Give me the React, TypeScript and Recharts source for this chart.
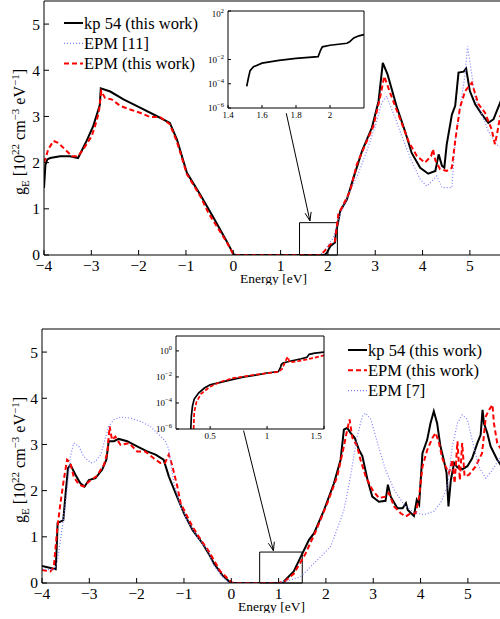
import React from "react";
import {
  LineChart,
  Line,
  XAxis,
  YAxis,
  ReferenceArea,
  ReferenceLine,
  Legend,
  CartesianGrid,
} from "recharts";

const SERIF = '"Liberation Serif", "Times New Roman", Times, serif';

type Pt = [number, number];

const energyTicks = [-4, -3, -2, -1, 0, 1, 2, 3, 4, 5];
const gTicks = [0, 1, 2, 3, 4, 5];

// upper panel: energy [eV] vs g_E [10^22 cm^-3 eV^-1]
const topKp: Pt[] = [
  [-4, 1.45], [-3.97, 1.95], [-3.93, 2.07], [-3.87, 2.1], [-3.66, 2.14], [-3.45, 2.14],
  [-3.28, 2.1], [-3.1, 2.47], [-2.96, 2.79], [-2.85, 3.15], [-2.82, 3.25], [-2.8, 3.61],
  [-2.6, 3.54], [-2.32, 3.37], [-1.97, 3.19], [-1.62, 3.01], [-1.34, 2.86], [-1.19, 2.5],
  [-0.98, 1.78], [-0.7, 1.31], [-0.42, 0.81], [-0.14, 0.3], [0, 0.02], [0.05, 0], [1.93, 0],
  [1.98, 0.05], [2.05, 0.19], [2.15, 0.27], [2.17, 0.5], [2.2, 0.63], [2.26, 0.95], [2.4, 1.2],
  [2.54, 1.67], [2.72, 2.25], [2.93, 2.76], [3.07, 3.33], [3.16, 4.16], [3.26, 3.91],
  [3.46, 3.19], [3.63, 2.68], [3.77, 2.21], [3.95, 1.89], [4.12, 1.76], [4.27, 1.82],
  [4.34, 2.18], [4.41, 1.93], [4.46, 1.89], [4.51, 2.39], [4.62, 3.04], [4.69, 3.23],
  [4.76, 3.95], [4.87, 3.97], [4.92, 4.04], [5.0, 3.55], [5.11, 3.27], [5.25, 3.05],
  [5.39, 2.86], [5.5, 2.94], [5.64, 3.3], [5.7, 3.45],
];
const topEpm11: Pt[] = [
  [1.8, 0], [1.9, 0.05], [2.0, 0.2], [2.11, 0.37], [2.26, 0.88], [2.47, 1.39], [2.65, 1.78],
  [2.82, 2.25], [3.0, 2.79], [3.14, 3.3], [3.24, 3.44], [3.42, 2.97], [3.6, 2.47], [3.77, 2.03],
  [3.95, 1.64], [4.09, 1.49], [4.2, 1.6], [4.3, 1.71], [4.41, 1.46], [4.55, 1.46], [4.62, 1.46],
  [4.69, 2.47], [4.79, 3.19], [4.9, 3.91], [4.95, 4.52], [5.02, 4.05], [5.11, 3.4], [5.25, 3.05],
  [5.39, 2.68], [5.57, 2.39], [5.7, 2.3],
];
const topEpm: Pt[] = [
  [-4, 2.0], [-3.95, 2.15], [-3.91, 2.29], [-3.8, 2.47], [-3.7, 2.43], [-3.56, 2.29],
  [-3.41, 2.14], [-3.28, 2.14], [-3.17, 2.29], [-2.99, 2.58], [-2.89, 2.9], [-2.84, 3.1],
  [-2.79, 3.55], [-2.71, 3.4], [-2.57, 3.37], [-2.39, 3.23], [-2.18, 3.15], [-1.97, 3.08],
  [-1.76, 2.99], [-1.55, 2.99], [-1.34, 2.83], [-1.19, 2.45], [-0.98, 1.75], [-0.7, 1.28],
  [-0.53, 0.92], [-0.14, 0.28], [0, 0.02], [0.05, 0], [1.85, 0], [1.94, 0.1], [2.05, 0.23],
  [2.15, 0.3], [2.22, 0.88], [2.33, 1.1], [2.47, 1.39], [2.61, 1.96], [2.79, 2.39], [2.96, 2.79],
  [3.1, 3.4], [3.19, 3.87], [3.3, 3.55], [3.49, 3.04], [3.7, 2.47], [3.88, 2.14], [4.05, 2.0],
  [4.18, 2.14], [4.22, 2.29], [4.27, 2.05], [4.37, 1.86], [4.51, 1.82], [4.62, 1.89],
  [4.69, 2.47], [4.79, 3.19], [4.9, 3.55], [5.04, 3.73], [5.18, 3.27], [5.32, 3.08],
  [5.46, 2.72], [5.53, 2.4], [5.57, 2.6], [5.64, 3.0], [5.7, 3.1],
];

// lower panel
const botKp: Pt[] = [
  [-4, 0.37], [-3.71, 0.3], [-3.68, 1.0], [-3.67, 1.3], [-3.61, 1.33], [-3.55, 1.36],
  [-3.5, 1.95], [-3.45, 2.49], [-3.4, 2.56], [-3.29, 2.34], [-3.19, 2.16], [-3.1, 2.09],
  [-3.01, 2.23], [-2.87, 2.27], [-2.73, 2.45], [-2.64, 2.67], [-2.59, 3.07], [-2.48, 3.07],
  [-2.38, 3.12], [-2.2, 3.07], [-1.99, 2.96], [-1.78, 2.85], [-1.6, 2.78], [-1.43, 2.67],
  [-1.32, 2.31], [-1.18, 1.95], [-1.0, 1.51], [-0.82, 1.15], [-0.61, 0.86], [-0.44, 0.57],
  [-0.37, 0.43], [-0.19, 0.17], [-0.01, 0], [1.1, 0], [1.11, 0.03], [1.32, 0.25], [1.47, 0.57],
  [1.64, 0.93], [1.75, 1.08], [1.96, 1.58], [2.17, 2.16], [2.31, 2.67], [2.38, 3.32],
  [2.45, 3.36], [2.52, 3.25], [2.61, 3.14], [2.7, 2.88], [2.77, 2.75], [2.88, 2.23],
  [2.98, 1.87], [3.12, 1.76], [3.26, 1.78], [3.31, 2.13], [3.37, 1.87], [3.51, 1.62],
  [3.62, 1.62], [3.69, 1.73], [3.73, 1.58], [3.86, 1.45], [3.92, 1.8], [3.97, 1.7],
  [4.04, 2.81], [4.14, 3.1], [4.21, 3.46], [4.28, 3.72], [4.35, 3.46], [4.42, 2.96],
  [4.49, 2.67], [4.55, 2.38], [4.59, 1.66], [4.64, 2.23], [4.71, 2.6], [4.78, 2.5],
  [4.88, 2.46], [4.99, 2.53], [5.09, 2.7], [5.2, 3.03], [5.27, 3.21], [5.31, 3.75],
  [5.34, 3.46], [5.41, 3.25], [5.48, 2.96], [5.62, 2.67], [5.7, 2.55],
];
const botEpm: Pt[] = [
  [-4, 0.28], [-3.82, 0.25], [-3.75, 0.35], [-3.68, 1.15], [-3.61, 1.73], [-3.54, 2.23],
  [-3.47, 2.67], [-3.4, 2.6], [-3.33, 2.3], [-3.22, 2.13], [-3.12, 2.09], [-2.97, 2.23],
  [-2.85, 2.31], [-2.69, 2.56], [-2.62, 2.82], [-2.57, 3.39], [-2.52, 3.1], [-2.45, 3.17],
  [-2.34, 2.99], [-2.16, 3.03], [-1.99, 2.85], [-1.82, 2.85], [-1.64, 2.7], [-1.5, 2.6],
  [-1.4, 2.6], [-1.32, 2.78], [-1.25, 2.55], [-1.14, 2.09], [-1.07, 1.73], [-0.93, 1.44],
  [-0.82, 1.22], [-0.64, 0.93], [-0.47, 0.68], [-0.23, 0.25], [0, 0.02], [0.05, 0], [1.0, 0],
  [1.15, 0.05], [1.32, 0.2], [1.47, 0.46], [1.57, 0.64], [1.78, 1.11], [2.03, 1.73],
  [2.24, 2.31], [2.38, 2.96], [2.45, 3.32], [2.5, 3.54], [2.56, 3.14], [2.66, 2.96],
  [2.73, 2.67], [2.84, 2.31], [2.98, 2.02], [3.12, 1.84], [3.26, 1.87], [3.33, 1.95],
  [3.44, 1.66], [3.58, 1.51], [3.69, 1.44], [3.79, 1.51], [3.9, 1.51], [3.97, 1.87],
  [4.04, 2.52], [4.14, 2.88], [4.25, 3.14], [4.32, 3.25], [4.39, 3.03], [4.46, 2.7],
  [4.53, 2.52], [4.6, 2.38], [4.67, 2.67], [4.72, 2.16], [4.78, 3.07], [4.83, 2.23],
  [4.88, 3.03], [4.93, 2.31], [5.02, 2.34], [5.16, 2.52], [5.3, 2.81], [5.38, 3.61],
  [5.45, 3.75], [5.52, 3.86], [5.55, 3.46], [5.62, 3.03], [5.7, 2.9],
];
const botEpm7: Pt[] = [
  [-4, 0.3], [-3.75, 0.28], [-3.68, 0.43], [-3.61, 0.93], [-3.54, 1.44], [-3.47, 2.02],
  [-3.4, 2.74], [-3.33, 3.03], [-3.22, 2.96], [-3.12, 2.74], [-2.97, 2.6], [-2.87, 2.63],
  [-2.76, 2.78], [-2.66, 3.14], [-2.59, 3.39], [-2.48, 3.54], [-2.34, 3.59], [-2.13, 3.57],
  [-1.92, 3.5], [-1.71, 3.39], [-1.53, 3.21], [-1.39, 3.07], [-1.32, 2.89], [-1.27, 2.52],
  [-1.21, 2.16], [-1.07, 1.66], [-0.9, 1.3], [-0.72, 1.0], [-0.51, 0.72], [-0.37, 0.38],
  [-0.16, 0.1], [-0.05, 0], [1.0, 0], [1.2, 0.05], [1.47, 0.14], [1.82, 0.5], [2.1, 0.79],
  [2.31, 1.37], [2.38, 1.58], [2.52, 2.31], [2.66, 3.17], [2.77, 3.61], [2.84, 3.68],
  [2.95, 3.54], [3.09, 3.03], [3.26, 2.45], [3.44, 2.02], [3.65, 1.69], [3.86, 1.53],
  [4.07, 1.48], [4.28, 1.55], [4.42, 1.73], [4.57, 2.09], [4.67, 2.96], [4.78, 3.46],
  [4.88, 3.64], [4.99, 3.54], [5.09, 3.1], [5.23, 2.52], [5.38, 2.27], [5.52, 2.45], [5.7, 2.75],
];

// insets (log scale, band edge)
const insetTopKp: Pt[] = [
  [1.51, 6e-5], [1.52, 3e-4], [1.53, 1.2e-3], [1.55, 2.5e-3], [1.6, 5e-3], [1.7, 8.5e-3],
  [1.8, 0.0126], [1.93, 0.017], [1.945, 0.06], [1.955, 0.11], [2.0, 0.15], [2.1, 0.22],
  [2.115, 0.29], [2.14, 0.6], [2.17, 0.9], [2.2, 1.15],
];
const insetBotKp: Pt[] = [
  [0.33, 1e-6], [0.335, 1e-5], [0.345, 6e-5], [0.36, 2e-4], [0.4, 6e-4], [0.45, 1.4e-3],
  [0.5, 2.5e-3], [0.6, 4e-3], [0.7, 6.5e-3], [0.8, 0.01], [0.9, 0.014], [1.0, 0.02],
  [1.1, 0.026], [1.12, 0.06], [1.125, 0.09], [1.14, 0.12], [1.2, 0.16], [1.3, 0.25],
  [1.35, 0.32], [1.37, 0.55], [1.42, 0.68], [1.5, 0.8],
];
const insetBotEpm: Pt[] = [
  [0.355, 1e-6], [0.36, 2e-5], [0.38, 1.2e-4], [0.42, 5e-4], [0.5, 1.8e-3], [0.6, 4.5e-3],
  [0.7, 8e-3], [0.8, 0.011], [0.9, 0.015], [1.0, 0.019], [1.1, 0.025], [1.13, 0.04],
  [1.16, 0.15], [1.18, 0.35], [1.2, 0.13], [1.3, 0.18], [1.4, 0.28], [1.5, 0.45],
];

type Series = { name: string; pts: Pt[]; color: string; width: number; dash?: string };

const KP = { color: "#000", width: 2 };
const RED = { color: "#ff0000", width: 2, dash: "5 3" };
const BLUE = { color: "#7f7fff", width: 1.2, dash: "1 2" };

const topSeries: Series[] = [
  { name: "kp 54 (this work)", pts: topKp, ...KP },
  { name: "EPM [11]", pts: topEpm11, ...BLUE },
  { name: "EPM (this work)", pts: topEpm, ...RED },
];
const botSeries: Series[] = [
  { name: "kp 54 (this work)", pts: botKp, ...KP },
  { name: "EPM (this work)", pts: botEpm, ...RED },
  { name: "EPM [7]", pts: botEpm7, ...BLUE },
];

const rows = (pts: Pt[]) => pts.map(([e, g]) => ({ e, g }));
const fmt = (v: number) => (v < 0 ? `\u2212${-v}` : `${v}`);

const Arrow = (p: any) => {
  const { x1, y1, x2, y2 } = p;
  if ([x1, y1, x2, y2].some((v) => typeof v !== "number")) return null;
  const a = Math.atan2(y2 - y1, x2 - x1);
  const L = 9;
  const h1 = [x2 - L * Math.cos(a - 0.35), y2 - L * Math.sin(a - 0.35)];
  const h2 = [x2 - L * Math.cos(a + 0.35), y2 - L * Math.sin(a + 0.35)];
  return (
    <g>
      <line x1={x1} y1={y1} x2={x2} y2={y2} stroke="#000" strokeWidth={1} />
      <polyline points={`${h1[0]},${h1[1]} ${x2},${y2} ${h2[0]},${h2[1]}`} fill="none" stroke="#000" strokeWidth={1} />
    </g>
  );
};

const XTick = (p: any) => (
  <text x={p.x} y={p.y} dy="0.71em" textAnchor="middle" fontFamily={SERIF} fontSize={p.size || 15.5} fill="#000">
    {p.fmt ? p.fmt(p.payload.value) : fmt(p.payload.value)}
  </text>
);
const YTick = (p: any) => (
  <text x={p.x} y={p.y} dy="0.35em" textAnchor="end" fontFamily={SERIF} fontSize={15.5} fill="#000">
    {fmt(p.payload.value)}
  </text>
);

function LegendBox({ items }: { items: Series[] }) {
  return (
    <svg width={170} height={64} style={{ overflow: "visible" }}>
      {items.map((s, i) => (
        <g key={s.name} transform={`translate(0, ${10 + i * 20.3})`}>
          <line x1={0} x2={19} y1={0} y2={0} stroke={s.color} strokeWidth={s.width} strokeDasharray={s.dash} />
          <text x={20} y={0} dominantBaseline="central" fontFamily={SERIF} fontSize={16.5} fill="#000">
            {s.name}
          </text>
        </g>
      ))}
    </svg>
  );
}

function YTitle({ cx, cy }: { cx: number; cy: number }) {
  return (
    <text transform={`translate(${cx}, ${cy}) rotate(-90)`} textAnchor="middle" fontFamily={SERIF} fontSize={16} fill="#000">
      <tspan>g</tspan>
      <tspan dy={4} fontSize={11}>E</tspan>
      <tspan dy={-4}> [10</tspan>
      <tspan dy={-6} fontSize={11}>22</tspan>
      <tspan dy={6}> cm</tspan>
      <tspan dy={-6} fontSize={11}>{"\u22123"}</tspan>
      <tspan dy={6}> eV</tspan>
      <tspan dy={-6} fontSize={11}>{"\u22121"}</tspan>
      <tspan dy={6}>]</tspan>
    </text>
  );
}

type PanelProps = {
  top: number;
  width: number;
  axisW: number;
  series: Series[];
  legendPos: { left: number; top: number };
  box: { x1: number; x2: number; y2: number };
  arrow: { x1: number; y1: number; x2: number; y2: number };
};

function Panel({ top, width, axisW, series, legendPos, box, arrow }: PanelProps) {
  return (
    <div style={{ position: "absolute", left: 0, top, fontFamily: SERIF }}>
      <LineChart width={width} height={285} margin={{ top: 0, right: 0, bottom: 0, left: 0 }}>
        <XAxis
          dataKey="e"
          type="number"
          domain={[-4, 5.7]}
          ticks={energyTicks}
          allowDataOverflow
          tick={<XTick />}
          tickSize={-5}
          tickMargin={10}
          height={30}
          stroke="#000"
          label={{
            content: (p: any) => {
              const vb = p.viewBox || { x: axisW, y: 254, width: width - axisW };
              return (
                <text x={vb.x + vb.width / 2} y={vb.y + 28} textAnchor="middle" fontFamily={SERIF} fontSize={13.5} fill="#000">
                  Energy [eV]
                </text>
              );
            },
          }}
        />
        <XAxis xAxisId="top" orientation="top" type="number" domain={[-4, 5.7]} ticks={energyTicks} allowDataOverflow tick={false} tickSize={-5} height={1} stroke="#000" />
        <YAxis
          type="number"
          domain={[0, 5.5]}
          ticks={gTicks}
          allowDataOverflow
          tick={<YTick />}
          tickSize={-5}
          tickMargin={9}
          width={axisW}
          stroke="#000"
          label={{
            content: (p: any) => {
              const vb = p.viewBox || { y: 1, height: 253 };
              return <YTitle cx={25} cy={vb.y + vb.height / 2 + 4} />;
            },
          }}
        />
        <YAxis yAxisId="right" orientation="right" type="number" domain={[0, 5.5]} ticks={gTicks} allowDataOverflow tick={false} tickSize={-5} width={1} stroke="#000" />
        {series.map((s) => (
          <Line
            key={s.name}
            name={s.name}
            data={rows(s.pts)}
            dataKey="g"
            stroke={s.color}
            strokeWidth={s.width}
            strokeDasharray={s.dash}
            dot={false}
            activeDot={false}
            isAnimationActive={false}
          />
        ))}
        {/* invisible copy bound to the top/right axes so the frame gets drawn */}
        <Line
          xAxisId="top"
          yAxisId="right"
          data={rows(series[0].pts)}
          dataKey="g"
          stroke="none"
          dot={false}
          activeDot={false}
          legendType="none"
          isAnimationActive={false}
        />
        <ReferenceArea x1={box.x1} x2={box.x2} y1={0} y2={box.y2} fill="none" fillOpacity={0} stroke="#000" strokeWidth={1} strokeOpacity={1} />
        <ReferenceLine
          segment={[
            { x: arrow.x1, y: arrow.y1 },
            { x: arrow.x2, y: arrow.y2 },
          ]}
          shape={Arrow}
          ifOverflow="visible"
        />
        <Legend
          layout="vertical"
          align="center"
          verticalAlign="middle"
          wrapperStyle={{ left: legendPos.left, top: legendPos.top, width: 170, height: 64 }}
          content={() => <LegendBox items={series} />}
        />
      </LineChart>
    </div>
  );
}

const PowTick = (props: any) => {
  const { x, y, payload } = props;
  const exp = Math.round(Math.log10(payload.value));
  return (
    <text x={x} y={y} textAnchor="end" dominantBaseline="central" fontFamily={SERIF} fontSize={9} fill="#000">
      10
      <tspan dy={-4} fontSize={6.5}>
        {fmt(exp)}
      </tspan>
    </text>
  );
};

type InsetProps = {
  left: number;
  top: number;
  plotW: number;
  plotH: number;
  xDomain: [number, number];
  xTicks: number[];
  yDomain: [number, number];
  yTicks: number[];
  series: Series[];
};

function Inset({ left, top, plotW, plotH, xDomain, xTicks, yDomain, yTicks, series }: InsetProps) {
  return (
    <div style={{ position: "absolute", left, top, fontFamily: SERIF }}>
      <LineChart width={30 + plotW + 2} height={6 + plotH + 14} margin={{ top: 5, right: 1, bottom: 0, left: 0 }}>
        <CartesianGrid fill="#fff" horizontal={false} vertical={false} />
        <XAxis dataKey="e" type="number" domain={xDomain} ticks={xTicks} allowDataOverflow tick={<XTick size={9} fmt={(v: number) => `${v}`} />} tickSize={-3} tickMargin={7} height={14} stroke="#000" />
        <XAxis xAxisId="top" orientation="top" type="number" domain={xDomain} ticks={xTicks} allowDataOverflow tick={false} tickSize={-3} height={1} stroke="#000" />
        <YAxis type="number" scale="log" domain={yDomain} ticks={yTicks} allowDataOverflow tick={<PowTick />} tickSize={-3} tickMargin={7} width={30} stroke="#000" />
        <YAxis yAxisId="right" orientation="right" type="number" scale="log" domain={yDomain} ticks={yTicks} allowDataOverflow tick={false} tickSize={-3} width={1} stroke="#000" />
        {series.map((s) => (
          <Line
            key={s.name}
            data={rows(s.pts)}
            dataKey="g"
            stroke={s.color}
            strokeWidth={1.7}
            strokeDasharray={s.dash ? "4 2" : undefined}
            dot={false}
            activeDot={false}
            isAnimationActive={false}
          />
        ))}
        <Line
          xAxisId="top"
          yAxisId="right"
          data={rows(series[0].pts)}
          dataKey="g"
          stroke="none"
          dot={false}
          activeDot={false}
          legendType="none"
          isAnimationActive={false}
        />
      </LineChart>
    </div>
  );
}

export default function App() {
  return (
    <div style={{ position: "absolute", left: 0, top: 0, width: 500, height: 619, overflow: "hidden", background: "#fff" }}>
      <Panel
        top={0}
        width={504}
        axisW={44}
        series={topSeries}
        legendPos={{ left: 64, top: 13 }}
        box={{ x1: 1.4, x2: 2.2, y2: 0.7 }}
        arrow={{ x1: 1.12, y1: 3.07, x2: 1.62, y2: 0.74 }}
      />
      <Panel
        top={328}
        width={502}
        axisW={42}
        series={botSeries}
        legendPos={{ left: 348, top: 12 }}
        box={{ x1: 0.6, x2: 1.5, y2: 0.67 }}
        arrow={{ x1: 0.26, y1: 3.3, x2: 0.89, y2: 0.7 }}
      />
      <Inset
        left={198}
        top={5}
        plotW={136}
        plotH={97}
        xDomain={[1.4, 2.2]}
        xTicks={[1.4, 1.6, 1.8, 2]}
        yDomain={[1e-6, 100]}
        yTicks={[1e-6, 1e-4, 1e-2, 1, 100]}
        series={[{ name: "kp", pts: insetTopKp, ...KP }]}
      />
      <Inset
        left={146}
        top={330}
        plotW={148}
        plotH={93}
        xDomain={[0.2, 1.5]}
        xTicks={[0.5, 1, 1.5]}
        yDomain={[1e-6, 14]}
        yTicks={[1e-6, 1e-4, 1e-2, 1]}
        series={[
          { name: "kp", pts: insetBotKp, ...KP },
          { name: "epm", pts: insetBotEpm, ...RED },
        ]}
      />
    </div>
  );
}
